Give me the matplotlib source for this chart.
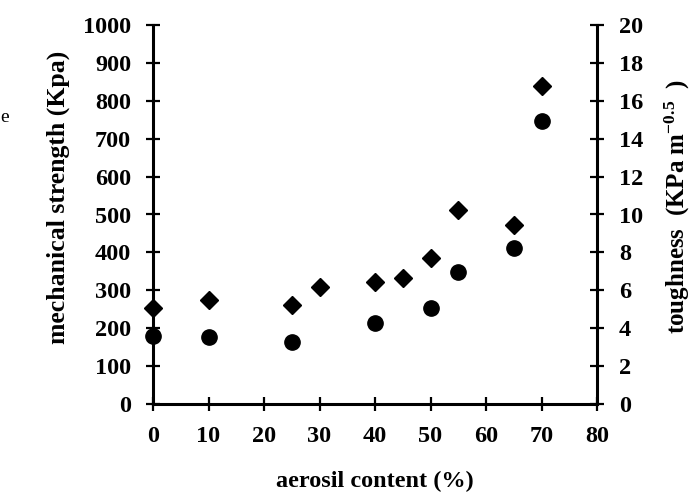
import matplotlib
matplotlib.use("Agg")
import matplotlib.pyplot as plt

aerosil_diamond = [0, 10, 25, 30, 40, 45, 50, 55, 65, 70]
strength = [254, 274, 261, 308, 321, 333, 384, 512, 472, 840]
aerosil_circle = [0, 10, 25, 40, 50, 55, 65, 70]
toughness = [3.58, 3.55, 3.26, 4.26, 5.05, 6.98, 8.22, 14.94]

x_ticks = [0, 10, 20, 30, 40, 50, 60, 70, 80]
left_ticks = [0, 100, 200, 300, 400, 500, 600, 700, 800, 900, 1000]
right_ticks = [0, 2, 4, 6, 8, 10, 12, 14, 16, 18, 20]

plt.rcParams['font.family'] = ['Liberation Serif', 'DejaVu Serif']
plt.rcParams['font.weight'] = 'bold'
plt.rcParams['mathtext.fontset'] = 'custom'
plt.rcParams['mathtext.rm'] = 'Liberation Serif:bold'
plt.rcParams['mathtext.it'] = 'Liberation Serif:bold'
plt.rcParams['mathtext.bf'] = 'Liberation Serif:bold'

W, H = 697, 498
fig = plt.figure(figsize=(W / 100, H / 100), dpi=100)
ax = fig.add_axes([153 / W, (H - 404) / H, 444 / W, 379 / H])
ax2 = ax.twinx()

fs = 17.5
ax.plot(aerosil_diamond, strength, linestyle='none', marker='D', ms=9.5,
        color='black', clip_on=False, zorder=5)
ax2.plot(aerosil_circle, toughness, linestyle='none', marker='o', ms=11,
         color='black', clip_on=False, zorder=5)

ax.set_xlim(0, 80)
ax.set_ylim(0, 1000)
ax2.set_ylim(0, 20)
ax.set_xticks(x_ticks)
ax.set_yticks(left_ticks)
ax2.set_yticks(right_ticks)

for a in (ax, ax2):
    a.spines['top'].set_visible(False)
    for s in ('left', 'right', 'bottom'):
        a.spines[s].set_linewidth(2.2)
    a.tick_params(direction='inout', length=9.5, width=1.6, labelsize=fs, pad=11)
ax.spines['right'].set_visible(False)
ax2.spines['left'].set_visible(False)
ax2.spines['bottom'].set_visible(False)

for lab in ax.get_xticklabels() + ax.get_yticklabels() + ax2.get_yticklabels():
    lab.set_fontweight('bold')

ax.set_xlabel('aerosil content (%)', fontsize=fs, fontweight='bold', labelpad=17)
ax.set_ylabel('mechanical strength (Kpa)', fontsize=18.5, fontweight='bold')
ax.yaxis.set_label_coords((70 - 153) / 444, (404 - 197.5) / 379)
ax2.set_ylabel('toughness  (KPa m$^{-0.5}$  )', fontsize=18, fontweight='bold',
               rotation=90)
ax2.yaxis.set_label_coords((663 - 153) / 444, (404 - 206) / 379)

fig.text(0 / W, 1 - 117 / H, 'e', fontsize=14, fontweight='normal', ha='left', va='center')

fig.savefig('out.png', dpi=100)
